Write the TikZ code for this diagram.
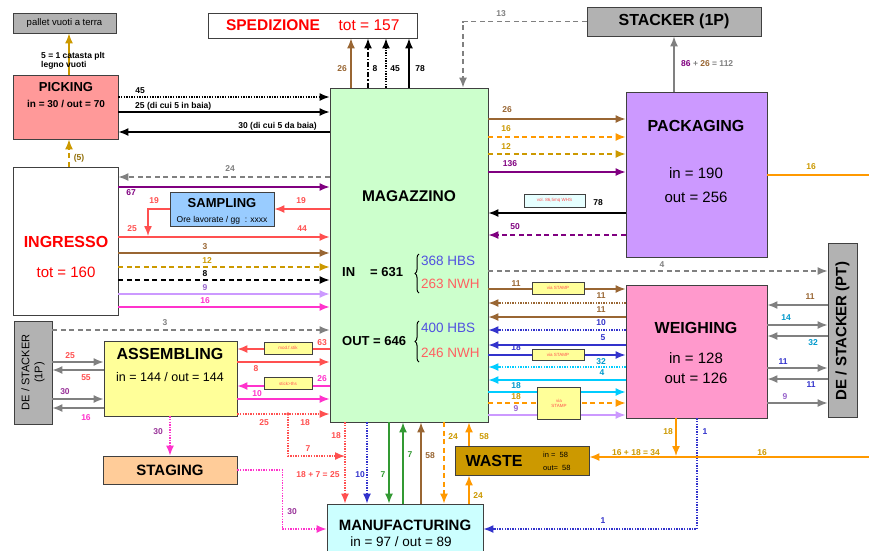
\documentclass[tikz,border=0pt]{standalone}
\usepackage{fontspec}
\setmainfont{Liberation Sans}
\usetikzlibrary{arrows.meta,decorations.pathreplacing}
\definecolor{cGold}{HTML}{CC9900}
\definecolor{cBrown}{HTML}{996633}
\definecolor{cPurple}{HTML}{800080}
\definecolor{cRed}{HTML}{FF5050}
\definecolor{cGray}{HTML}{808080}
\definecolor{cOrange}{HTML}{FF9900}
\definecolor{cLilac}{HTML}{CC99FF}
\definecolor{tLilac}{HTML}{9966CC}
\definecolor{cMag}{HTML}{FF33CC}
\definecolor{tMag}{HTML}{993399}
\definecolor{cBlue}{HTML}{3333CC}
\definecolor{cCyan}{HTML}{00CCFF}
\definecolor{tCyan}{HTML}{0099CC}
\definecolor{cGreen}{HTML}{339933}
\definecolor{fGray}{HTML}{B2B2B2}
\definecolor{fPink}{HTML}{FF9999}
\definecolor{fBlue}{HTML}{99CCFF}
\definecolor{fGreen}{HTML}{CCFFCC}
\definecolor{fLav}{HTML}{CC99FF}
\definecolor{fRose}{HTML}{FF99CC}
\definecolor{fYel}{HTML}{FFFF99}
\definecolor{fPeach}{HTML}{FFCC99}
\definecolor{fCyan}{HTML}{CCFFFF}
\definecolor{fWaste}{HTML}{CC9900}
\definecolor{tBlue}{HTML}{5050E0}
\definecolor{tRed}{HTML}{FF6060}
\definecolor{bord}{HTML}{404040}
\tikzset{
  box/.style={draw=bord,line width=0.9pt,inner sep=0pt,align=center},
  flow/.style={line width=1.4pt,-{Latex[length=10pt,width=8pt]}},
  dsh/.style={dash pattern=on 5pt off 3.5pt},
  dts/.style={dash pattern=on 1.3pt off 1.3pt},
  dashdot/.style={dash pattern=on 5pt off 2pt on 1.3pt off 2pt},
  lbl/.style={font=\fontsize{8.5}{9}\selectfont\bfseries,inner sep=0pt},
  ybox/.style={draw=bord,line width=0.6pt,fill=fYel,inner sep=0pt,font=\fontsize{4.5}{5}\selectfont,text=cRed,align=center},
  ttl/.style={font=\fontsize{16}{18}\selectfont\bfseries,inner sep=0pt},
  sub/.style={font=\fontsize{15}{17}\selectfont,inner sep=0pt},
}
\begin{document}
\begin{tikzpicture}[x=1pt,y=-1pt]
\useasboundingbox (0,0) rectangle (869,550);
\fill[white] (0,0) rectangle (869,550);
% ---------------- boxes
\node[box,fill=fGray,minimum width=103,minimum height=20,font=\fontsize{9.5}{10}\selectfont] (pallet) at (64.5,23) {pallet vuoti a terra};
\node[box,fill=white,minimum width=209,minimum height=25] (sped) at (312.5,25.5) {};
\node[font=\fontsize{15.5}{17}\selectfont\bfseries,text=red,inner sep=0pt] (spedt) at (273,25) {SPEDIZIONE};
\node[font=\fontsize{15.5}{17}\selectfont,text=red,inner sep=0pt] (spedn) at (369,25) {tot = 157};
\node[box,fill=fGray,minimum width=174,minimum height=29,font=\fontsize{16}{18}\selectfont\bfseries] (stk1p) at (674,21.5) {STACKER (1P)};
\node[box,fill=fPink,minimum width=105,minimum height=64] (pick) at (65.5,107) {};
\node[font=\fontsize{13}{15}\selectfont\bfseries,inner sep=0pt] (pickt) at (66,87) {PICKING};
\node[font=\fontsize{10}{12}\selectfont\bfseries,inner sep=0pt] (picks) at (66,104) {in = 30 / out = 70};
\node[box,fill=white,minimum width=105,minimum height=148] (ingr) at (65.5,241) {};
\node[font=\fontsize{16}{18}\selectfont\bfseries,text=red,inner sep=0pt] (ingrt) at (66,242) {INGRESSO};
\node[font=\fontsize{15}{17}\selectfont,text=red,inner sep=0pt] (ingrs) at (66,272) {tot = 160};
\node[box,fill=fBlue,minimum width=104,minimum height=34] (samp) at (222,209) {};
\node[font=\fontsize{13}{15}\selectfont\bfseries,inner sep=0pt] (sampt) at (222,203) {SAMPLING};
\node[font=\fontsize{8.5}{10}\selectfont,inner sep=0pt] (samps) at (222,220) {Ore lavorate / gg \ : xxxx};
\node[box,fill=fGreen,minimum width=158,minimum height=334] (mag) at (409,255) {};
\node[box,fill=fLav,minimum width=141,minimum height=165] (pack) at (696.5,174.5) {};
\node[ttl] (packt) at (696,126) {PACKAGING};
\node[sub] (packi) at (696,173) {in = 190};
\node[sub] (packo) at (696,197) {out = 256};
\node[box,fill=fGray,minimum width=29,minimum height=174] (stkpt) at (842.5,330) {};
\node[rotate=90,font=\fontsize{15}{17}\selectfont\bfseries,inner sep=0pt] (stkptt) at (842.5,331) {DE / STACKER (PT)};
\node[box,fill=fRose,minimum width=141,minimum height=133] (weigh) at (696.5,351.5) {};
\node[ttl] (weight) at (696,328) {WEIGHING};
\node[sub] (weighi) at (696,358) {in = 128};
\node[sub] (weigho) at (696,378) {out = 126};
\node[box,fill=fGray,minimum width=38,minimum height=103] (stkl) at (33,372.5) {};
\node[rotate=90,font=\fontsize{11}{13}\selectfont,align=center,inner sep=0pt,text=black] (stklt) at (33,372.5) {DE / STACKER\\(1P)};
\node[box,fill=fYel,minimum width=133,minimum height=75] (asm) at (170.5,378.5) {};
\node[ttl] (asmt) at (170,354) {ASSEMBLING};
\node[sub,font=\fontsize{12.5}{14}\selectfont] (asms) at (170,377) {in = 144 / out = 144};
\node[box,fill=fPeach,minimum width=134,minimum height=28,font=\fontsize{15}{17}\selectfont\bfseries] (stag) at (170,470) {STAGING};
\node[box,fill=fWaste,minimum width=134,minimum height=29] (waste) at (522,460.5) {};
\node[font=\fontsize{16}{18}\selectfont\bfseries,inner sep=0pt] (wastet) at (494,461) {WASTE};
\node[font=\fontsize{7.5}{9}\selectfont,inner sep=0pt,anchor=west] (wastei) at (543,455) {in = \ 58};
\node[font=\fontsize{7.5}{9}\selectfont,inner sep=0pt,anchor=west] (wasteo) at (543,468) {out= \ 58};
\node[box,fill=fCyan,minimum width=156,minimum height=54] (manu) at (405,531) {};
\node[font=\fontsize{15}{17}\selectfont\bfseries,inner sep=0pt] (manut) at (405,525) {MANUFACTURING};
\node[sub,font=\fontsize{13.5}{15}\selectfont] (manus) at (401,542) {in = 97 / out = 89};
% Magazzino texts
\node[font=\fontsize{15.5}{17}\selectfont\bfseries,inner sep=0pt] (magt) at (409,196) {MAGAZZINO};
\node[font=\fontsize{13}{15}\selectfont\bfseries,inner sep=0pt,anchor=west] (magin) at (342,272) {IN};
\node[font=\fontsize{13}{15}\selectfont\bfseries,inner sep=0pt,anchor=west] (magin2) at (370,272) {= 631};
\node[font=\fontsize{13}{15}\selectfont\bfseries,inner sep=0pt,anchor=west] (magout) at (342,341) {OUT = 646};
\draw[line width=1pt,decorate,decoration={brace,amplitude=4pt}] (419,293) -- (419,254);
\draw[line width=1pt,decorate,decoration={brace,amplitude=4pt}] (419,362) -- (419,321);
\node[font=\fontsize{13.5}{15}\selectfont,text=tBlue,inner sep=0pt,anchor=west] (m1) at (421,261) {368 HBS};
\node[font=\fontsize{13.5}{15}\selectfont,text=tRed,inner sep=0pt,anchor=west] (m2) at (421,284) {263 NWH};
\node[font=\fontsize{13.5}{15}\selectfont,text=tBlue,inner sep=0pt,anchor=west] (m3) at (421,328) {400 HBS};
\node[font=\fontsize{13.5}{15}\selectfont,text=tRed,inner sep=0pt,anchor=west] (m4) at (421,353) {246 NWH};
% ---------------- picking / pallet
\draw[flow,cGold] (pick.north -| 69,0) -- (pallet.south -| 69,0);
\node[lbl,anchor=west,align=left,font=\fontsize{8.5}{9.5}\selectfont\bfseries] (L1) at (41,61) {5 = 1 catasta plt\\legno vuoti};
\draw[flow,cGold,dsh] (ingr.north -| 69,0) -- (pick.south -| 69,0);
\node[lbl,text=cGold!70!black] (L2) at (79,158) {(5)};
\draw[flow,dts] (pick.east |- 0,97) -- (mag.west |- 0,97);
\node[lbl] (L3) at (140,91) {45};
\draw[flow] (pick.east |- 0,112) -- (mag.west |- 0,112);
\node[lbl,anchor=west] (L4) at (135,106) {25 (di cui 5 in baia)};
\draw[flow] (mag.west |- 0,132) -- (pick.east |- 0,132);
\node[lbl,anchor=east] (L5) at (317,126) {30 (di cui 5 da baia)};
% ---------------- mag -> spedizione
\draw[flow,cBrown] (mag.north -| 351,0) -- (sped.south -| 351,0);
\node[lbl,text=cBrown] (L6) at (342,69) {26};
\draw[flow,dashdot] (mag.north -| 368,0) -- (sped.south -| 368,0);
\node[lbl] (L7) at (375,69) {8};
\draw[flow,dts] (mag.north -| 386,0) -- (sped.south -| 386,0);
\node[lbl] (L8) at (395,69) {45};
\draw[flow] (mag.north -| 409,0) -- (sped.south -| 409,0);
\node[lbl] (L9) at (420,69) {78};
% ---------------- stacker 1P
\draw[flow,cGray,dsh] (stk1p.west) -| (mag.north -| 463,0);
\node[lbl,text=cGray] (L10) at (501,14) {13};
\draw[flow,cGray] (pack.north -| 674,0) -- (stk1p.south);
\node[lbl,anchor=west] (L11) at (681,64) {\textcolor{cPurple}{86} \textcolor{cGray}{+} \textcolor{cBrown}{26} \textcolor{cGray}{= 112}};
% ---------------- ingresso <-> mag
\draw[flow,cGray,dsh] (mag.west |- 0,177) -- (ingr.east |- 0,177);
\node[lbl,text=cGray] (L12) at (230,169) {24};
\draw[flow,cPurple] (ingr.east |- 0,187) -- (mag.west |- 0,187);
\node[lbl,text=cPurple] (L13) at (131,193) {67};
\draw[flow,cRed] (mag.west |- 0,209) -- (samp.east);
\node[lbl,text=cRed] (L14) at (301,201) {19};
\coordinate (sj) at (148,236);
\draw[flow,cRed] (samp.west) -| (sj);
\node[lbl,text=cRed] (L15) at (154,201) {19};
\draw[flow,cRed] (ingr.east |- 0,237) -- (mag.west |- 0,237);
\node[lbl,text=cRed] (L16) at (132,229) {25};
\node[lbl,text=cRed] (L17) at (302,229) {44};
\draw[flow,cBrown] (ingr.east |- 0,253) -- (mag.west |- 0,253);
\node[lbl,text=cBrown] (L18) at (205,247) {3};
\draw[flow,cGold,dsh] (ingr.east |- 0,267) -- (mag.west |- 0,267);
\node[lbl,text=cGold] (L19) at (207,261) {12};
\draw[flow,dsh] (ingr.east |- 0,280) -- (mag.west |- 0,280);
\node[lbl] (L20) at (205,274) {8};
\draw[flow,cLilac] (ingr.east |- 0,294) -- (mag.west |- 0,294);
\node[lbl,text=tLilac] (L21) at (205,288) {9};
\draw[flow,cMag] (ingr.east |- 0,307) -- (mag.west |- 0,307);
\node[lbl,text=cMag] (L22) at (205,301) {16};
% ---------------- stacker left
\draw[flow,cGray,dsh] (stkl.east |- 0,330) -- (mag.west |- 0,330);
\node[lbl,text=cGray] (L23) at (165,323) {3};
\draw[flow,cGray] (stkl.east |- 0,362) -- (asm.west |- 0,362);
\node[lbl,text=cRed] (L24) at (70,356) {25};
\draw[flow,cGray] (asm.west |- 0,370) -- (stkl.east |- 0,370);
\node[lbl,text=cRed] (L25) at (86,378) {55};
\draw[flow,cGray] (stkl.east |- 0,399) -- (asm.west |- 0,399);
\node[lbl,text=tMag] (L26) at (65,392) {30};
\draw[flow,cGray] (asm.west |- 0,408) -- (stkl.east |- 0,408);
\node[lbl,text=cMag] (L27) at (86,418) {16};
% ---------------- assembling <-> mag
\draw[flow,cRed] (mag.west |- 0,349) -- (asm.east |- 0,349);
\node[lbl,text=cRed] (L28) at (322,343) {63};
\draw[flow,cRed] (asm.east |- 0,362) -- (mag.west |- 0,362);
\node[lbl,text=cRed] (L29) at (256,369) {8};
\draw[flow,cMag] (mag.west |- 0,386) -- (asm.east |- 0,386);
\node[lbl,text=cMag] (L30) at (322,379) {26};
\draw[flow,cMag] (asm.east |- 0,399) -- (mag.west |- 0,399);
\node[lbl,text=cMag] (L31) at (257,394) {10};
\draw[flow,cRed,dts] (asm.east |- 0,414) -- (mag.west |- 0,414);
\node[lbl,text=cRed] (L32) at (264,423) {25};
\node[lbl,text=cRed] (L33) at (305,423) {18};
\coordinate (j1) at (288,414);
\coordinate (j2) at (345,456);
\fill[cRed] (j1) circle (1.8pt);
\draw[flow,cRed,dts] (j1) |- (j2);
\node[lbl,text=cRed] (L34) at (308,449) {7};
\node[ybox,minimum width=48,minimum height=12] (y1) at (288,348) {mod.f.stik};
\node[ybox,minimum width=48,minimum height=12] (y2) at (288,383.5) {stick>ths};
% ---------------- mag <-> manufacturing
\draw[flow,cRed,dts] (mag.south -| 345,0) -- (manu.north -| 345,0);
\node[lbl,text=cRed] (L35) at (336,436) {18};
\node[lbl,text=cRed] (L36) at (318,475) {18 + 7 = 25};
\draw[flow,cBlue,dts] (mag.south -| 367,0) -- (manu.north -| 367,0);
\node[lbl,text=cBlue] (L37) at (360,475) {10};
\draw[flow,cGreen] (mag.south -| 389,0) -- (manu.north -| 389,0);
\node[lbl,text=cGreen] (L38) at (383,475) {7};
\draw[flow,cGreen] (manu.north -| 403,0) -- (mag.south -| 403,0);
\node[lbl,text=cGreen] (L39) at (410,455) {7};
\draw[flow,cBrown] (manu.north -| 421,0) -- (mag.south -| 421,0);
\node[lbl,text=cBrown] (L40) at (430,456) {58};
\draw[flow,cOrange,dsh] (mag.south -| 444,0) -- (manu.north -| 444,0);
\node[lbl,text=cGold] (L41) at (453,437) {24};
\draw[flow,cOrange] (waste.north -| 469,0) -- (mag.south -| 469,0);
\node[lbl,text=cGold] (L42) at (484,437) {58};
\draw[flow,cOrange] (manu.north -| 469,0) -- (waste.south -| 469,0);
\node[lbl,text=cGold] (L43) at (478,496) {24};
% ---------------- staging
\draw[flow,cMag,dts] (asm.south -| 170,0) -- (stag.north -| 170,0);
\node[lbl,text=tMag] (L44) at (158,432) {30};
\draw[flow,cMag,dts] (stag.east) -- ++(45,0) |- (manu.west |- 0,529);
\node[lbl,text=tMag] (L45) at (292,512) {30};
% ---------------- weighing -> manufacturing / waste
\draw[flow,cBlue,dts] (weigh.south -| 697,0) |- (manu.east |- 0,529);
\node[lbl,text=cBlue] (L46) at (705,432) {1};
\node[lbl,text=cBlue] (L47) at (603,521) {1};
\coordinate (wl) at (676,456);
\draw[flow,cOrange] (weigh.south -| 676,0) -- (wl);
\node[lbl,text=cGold] (L48) at (668,432) {18};
\coordinate (re1) at (869,457);
\draw[flow,cOrange] (re1) -- (waste.east |- 0,457);
\node[lbl,text=cGold] (L49) at (762,453) {16};
\node[lbl,text=cGold] (L50) at (636,453) {16 + 18 = 34};
\coordinate (re2) at (869,175);
\draw[cOrange,line width=1.4pt] (pack.east |- 0,175) -- (re2);
\node[lbl,text=cGold] (L51) at (811,167) {16};
% ---------------- packaging <-> mag
\draw[flow,cBrown] (mag.east |- 0,119) -- (pack.west |- 0,119);
\node[lbl,text=cBrown] (L52) at (507,110) {26};
\draw[flow,cOrange,dsh] (mag.east |- 0,137) -- (pack.west |- 0,137);
\node[lbl,text=cGold] (L53) at (506,129) {16};
\draw[flow,cGold,dsh] (mag.east |- 0,154) -- (pack.west |- 0,154);
\node[lbl,text=cGold] (L54) at (506,147) {12};
\draw[flow,cPurple] (mag.east |- 0,172) -- (pack.west |- 0,172);
\node[lbl,text=cPurple] (L55) at (510,164) {136};
\draw[flow] (pack.west |- 0,213) -- (mag.east |- 0,213);
\node[draw=bord,fill=fCyan!50,line width=0.6pt,minimum width=61,minimum height=13,inner sep=0pt,font=\fontsize{4.5}{5}\selectfont,text=cRed] (vbox) at (554.5,200.5) {vol. 86,5mq WHS};
\node[lbl] (L56) at (598,203) {78};
\draw[flow,cPurple,dsh] (pack.west |- 0,235) -- (mag.east |- 0,235);
\node[lbl,text=cPurple] (L57) at (515,227) {50};
% ---------------- mag -> stacker PT
\draw[flow,cGray,dsh] (mag.east |- 0,271) -- (stkpt.west |- 0,271);
\node[lbl,text=cGray] (L58) at (662,265) {4};
% ---------------- weighing <-> mag
\draw[flow,cBrown] (mag.east |- 0,289) -- (weigh.west |- 0,289);
\node[lbl,text=cBrown] (L59) at (516,284) {11};
\draw[flow,cBrown,dts] (weigh.west |- 0,303) -- (mag.east |- 0,303);
\node[lbl,text=cBrown] (L60) at (601,296) {11};
\draw[flow,cBrown] (weigh.west |- 0,317) -- (mag.east |- 0,317);
\node[lbl,text=cBrown] (L61) at (601,310) {11};
\draw[flow,cBlue,dts] (weigh.west |- 0,330) -- (mag.east |- 0,330);
\node[lbl,text=cBlue] (L62) at (601,323) {10};
\draw[flow,cBlue] (weigh.west |- 0,345) -- (mag.east |- 0,345);
\node[lbl,text=cBlue] (L63) at (603,338) {5};
\draw[flow,cBlue] (mag.east |- 0,355) -- (weigh.west |- 0,355);
\node[lbl,text=cBlue] (L64) at (516,348) {18};
\draw[flow,cCyan,dts] (weigh.west |- 0,367) -- (mag.east |- 0,367);
\node[lbl,text=tCyan] (L65) at (601,362) {32};
\draw[flow,cCyan] (weigh.west |- 0,380) -- (mag.east |- 0,380);
\node[lbl,text=tCyan] (L66) at (602,373) {4};
\draw[flow,cCyan] (mag.east |- 0,392) -- (weigh.west |- 0,392);
\node[lbl,text=tCyan] (L67) at (516,386) {18};
\draw[flow,cOrange,dsh] (mag.east |- 0,403) -- (weigh.west |- 0,403);
\node[lbl,text=cGold] (L68) at (516,397) {18};
\draw[flow,cLilac] (mag.east |- 0,415) -- (weigh.west |- 0,415);
\node[lbl,text=tLilac] (L69) at (516,409) {9};
\node[ybox,minimum width=52,minimum height=12] (y3) at (558,288) {via STAMP};
\node[ybox,minimum width=52,minimum height=11] (y4) at (558,354.5) {via STAMP};
\node[ybox,minimum width=43,minimum height=32] (y5) at (559,403) {via\\STAMP};
% ---------------- weighing <-> stacker PT
\draw[flow,cGray] (stkpt.west |- 0,305) -- (weigh.east |- 0,305);
\node[lbl,text=cBrown] (L70) at (810,297) {11};
\draw[flow,cGray] (weigh.east |- 0,325) -- (stkpt.west |- 0,325);
\node[lbl,text=tCyan] (L71) at (786,318) {14};
\draw[flow,cGray] (stkpt.west |- 0,336) -- (weigh.east |- 0,336);
\node[lbl,text=tCyan] (L72) at (813,343) {32};
\draw[flow,cGray] (weigh.east |- 0,368) -- (stkpt.west |- 0,368);
\node[lbl,text=cBlue] (L73) at (783,362) {11};
\draw[flow,cGray] (stkpt.west |- 0,379) -- (weigh.east |- 0,379);
\node[lbl,text=cBlue] (L74) at (811,385) {11};
\draw[flow,cGray] (weigh.east |- 0,403) -- (stkpt.west |- 0,403);
\node[lbl,text=tLilac] (L75) at (785,397) {9};
\end{tikzpicture}
\end{document}
